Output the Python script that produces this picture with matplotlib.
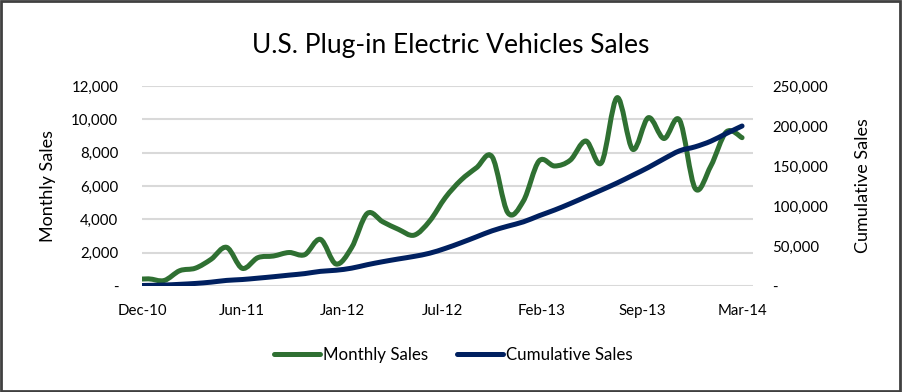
import numpy as np
import pandas as pd
import matplotlib
matplotlib.use("Agg")
import matplotlib.pyplot as plt
from matplotlib.path import Path
from matplotlib.patches import PathPatch, Rectangle
from matplotlib.lines import Line2D
from matplotlib.ticker import FuncFormatter

plt.rcParams['font.family'] = ['Lato', 'DejaVu Sans']

# Monthly data, Dec-10 .. Mar-14
months = pd.date_range("2010-12-01", "2014-03-01", freq="MS").strftime("%b-%y").tolist()
tick_labels = ["Dec-10", "Jun-11", "Jan-12", "Jul-12", "Feb-13", "Sep-13", "Mar-14"]

monthly_sales = [380, 430, 330, 920, 1070, 1600, 2320, 1060, 1700, 1800,
                 2010, 1880, 2800, 1320, 2300, 4350, 3850, 3400, 3050, 3900,
                 5300, 6350, 7100, 7750, 4400, 5100, 7500, 7200, 7550, 8700,
                 7400, 11300, 8200, 10100, 8850, 9950, 5850, 7200, 9250, 8900]

cumulative_sales = [400, 800, 1200, 2100, 3200, 4800, 7000, 8100, 9800, 11600,
                    13600, 15500, 18300, 19700, 22300, 26600, 30400, 33800, 37000, 41000,
                    47000, 54000, 61500, 69000, 74800, 80200, 87800, 95000, 103000, 111500,
                    120000, 128800, 138400, 148200, 159000, 169000, 174000, 181000, 190700, 200000]

GREEN = "#2F7032"
NAVY = "#002060"


def smooth_path(x, y):
    # Catmull-Rom style bezier, like a spreadsheet "smoothed line"
    pts = np.column_stack([x, y]).astype(float)
    n = len(pts)
    verts = [pts[0]]
    codes = [Path.MOVETO]
    for i in range(n - 1):
        p0 = pts[i - 1] if i > 0 else pts[i]
        p1, p2 = pts[i], pts[i + 1]
        p3 = pts[i + 2] if i + 2 < n else pts[i + 1]
        verts += [p1 + (p2 - p0) / 6, p2 - (p3 - p1) / 6, p2]
        codes += [Path.CURVE4] * 3
    return Path(verts, codes)


def fmt(v, pos):
    return "-" if v == 0 else f"{v:,.0f}"


x = np.arange(len(months))

fig = plt.figure(figsize=(9.02, 3.92), dpi=100)
ax = fig.add_axes([0.1574, 0.2704, 0.6774, 0.5102])
ax2 = ax.twinx()

ax.add_patch(PathPatch(smooth_path(x, monthly_sales), fill=False, edgecolor=GREEN,
                       lw=3.6, capstyle="round", joinstyle="round", zorder=3))
ax2.add_patch(PathPatch(smooth_path(x, cumulative_sales), fill=False, edgecolor=NAVY,
                        lw=3.6, capstyle="round", joinstyle="round", zorder=3))

x_left, x_right = 0.58, 39.7
ax.set_xlim(x_left, x_right)
ax.set_ylim(0, 12000)
ax2.set_ylim(0, 250000)
ax.set_yticks(np.arange(0, 12001, 2000))
ax2.set_yticks(np.arange(0, 250001, 50000))
ax.yaxis.set_major_formatter(FuncFormatter(fmt))
ax2.yaxis.set_major_formatter(FuncFormatter(fmt))
ax.set_xticks(np.linspace(x_left, len(months) - 1, len(tick_labels)))
ax.set_xticklabels(tick_labels)

ax.grid(axis="y", color="#D9D9D9", lw=1.5)
ax.set_axisbelow(True)
for a in (ax, ax2):
    for s in a.spines.values():
        s.set_visible(False)
    a.tick_params(length=0, labelsize=10.8, colors="black")
ax.tick_params(axis="y", pad=17)
ax2.tick_params(axis="y", pad=14)
ax.tick_params(axis="x", pad=13)

ax.set_ylabel("Monthly Sales", fontsize=13, labelpad=11)
ax2.set_ylabel("Cumulative Sales", fontsize=13, labelpad=19)

fig.text(0.5, 0.885, "U.S. Plug-in Electric Vehicles Sales", ha="center", va="center", fontsize=19)

handles = [Line2D([], [], color=GREEN, lw=3.6, solid_capstyle="round"),
           Line2D([], [], color=NAVY, lw=3.6, solid_capstyle="round")]
fig.legend(handles, ["Monthly Sales", "Cumulative Sales"], loc="center",
           bbox_to_anchor=(0.503, 0.094), ncol=2, frameon=False, fontsize=12.2,
           handlelength=2.7, handletextpad=0.2, columnspacing=1.7)

fig.add_artist(Rectangle((0.001, 0.002), 0.997, 0.995, transform=fig.transFigure,
                         fill=False, edgecolor="#404040", lw=2))

fig.savefig("out.png", dpi=100)
